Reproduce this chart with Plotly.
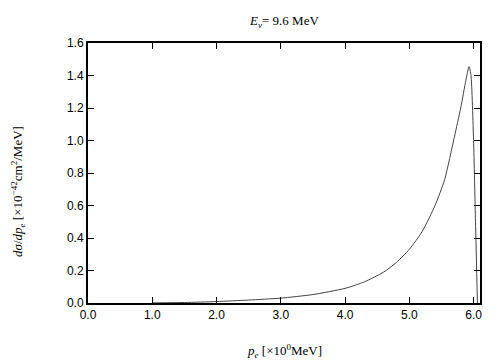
import plotly.graph_objects as go

p_e = [1.0, 1.5, 2.0, 2.5, 3.0, 3.5, 4.0, 4.3, 4.6, 4.8, 5.0, 5.2, 5.4, 5.55, 5.7, 5.8, 5.88, 5.93, 5.96, 6.0, 6.03, 6.06]
dsig = [0.0005, 0.003, 0.009, 0.018, 0.030, 0.052, 0.090, 0.13, 0.19, 0.25, 0.33, 0.44, 0.60, 0.76, 1.02, 1.20, 1.37, 1.455, 1.40, 1.0, 0.50, 0.0]

x_ticks = [0, 1, 2, 3, 4, 5, 6]
x_labels = ["0.0", "1.0", "2.0", "3.0", "4.0", "5.0", "6.0"]
y_ticks = [0, 0.2, 0.4, 0.6, 0.8, 1.0, 1.2, 1.4, 1.6]
y_labels = ["0.0", "0.2", "0.4", "0.6", "0.8", "1.0", "1.2", "1.4", "1.6"]

fig = go.Figure()
fig.add_trace(go.Scatter(x=p_e, y=dsig, mode="lines",
                         line=dict(color="#444444", width=1, shape="spline", smoothing=0.6),
                         hoverinfo="skip", showlegend=False))

serif = "'Liberation Serif', 'Times New Roman', serif"
sans = "'Liberation Sans', Arial, sans-serif"

axis_common = dict(showgrid=False, zeroline=False, showline=True, linecolor="black",
                   linewidth=2, mirror="ticks", ticks="inside", ticklen=6,
                   tickcolor="black", tickwidth=1,
                   tickfont=dict(family=sans, size=12, color="black"))

# page body has an 8px default margin, so the figure is sized to fit inside 504x360
fig.update_layout(
    width=496, height=352,
    margin=dict(l=80, r=24, t=35, b=57),
    paper_bgcolor="white", plot_bgcolor="white",
    xaxis=dict(range=[0, 6.1], tickvals=x_ticks, ticktext=x_labels, **axis_common),
    yaxis=dict(range=[0, 1.6], tickvals=y_ticks, ticktext=y_labels, **axis_common),
    annotations=[
        dict(text="<i>E</i><sub><i>ν</i></sub>= 9.6 MeV", xref="paper", yref="paper",
             x=0.5, y=1, yshift=22, xanchor="center", yanchor="middle", showarrow=False,
             font=dict(family=serif, size=13, color="black")),
        dict(text="<i>p</i><sub><i>e</i></sub> [×10<sup>0</sup>MeV]", xref="paper", yref="paper",
             x=0.5, y=0, yshift=-48, xanchor="center", yanchor="middle", showarrow=False,
             font=dict(family=serif, size=13, color="black")),
        dict(text="<i>dσ</i>/<i>dp</i><sub><i>e</i></sub> [×10<sup>−42</sup>cm<sup>2</sup>/MeV]",
             xref="paper", yref="paper", x=0, y=0.427, xshift=-70, textangle=-90,
             xanchor="center", yanchor="middle", showarrow=False,
             font=dict(family=serif, size=13, color="black")),
    ],
)

fig.write_html("out.html")
